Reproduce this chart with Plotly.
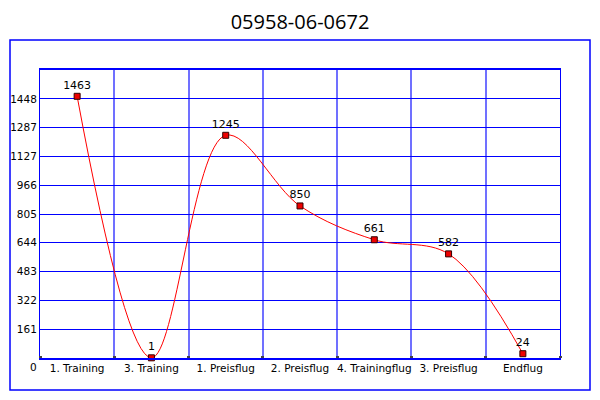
import plotly.graph_objects as go

title = "05958-06-0672"
categories = ["1. Training", "3. Training", "1. Preisflug", "2. Preisflug",
              "4. Trainingflug", "3. Preisflug", "Endflug"]
values = [1463, 1, 1245, 850, 661, 582, 24]
y_ticks = [161, 322, 483, 644, 805, 966, 1127, 1287, 1448]
y_max = 1610

x_pos = [i + 0.5 for i in range(len(categories))]

FONT = "DejaVu Sans"
OFF = 8  # page body offset compensation

fig = go.Figure()
fig.add_trace(go.Scatter(
    x=x_pos, y=values,
    mode="lines+markers+text",
    text=[str(v) for v in values],
    textposition="top center",
    textfont=dict(family=FONT, size=11, color="black"),
    line=dict(color="#ff0000", width=1, shape="spline", smoothing=1.0),
    marker=dict(symbol="square", size=6, color="#ee0000",
                line=dict(color="#330000", width=1)),
    cliponaxis=False,
    showlegend=False,
))

fig.update_layout(
    width=600, height=400,
    margin=dict(l=40 - OFF, r=40 + OFF, t=70 - OFF, b=42 + OFF),
    paper_bgcolor="white", plot_bgcolor="white",
    title=dict(text=title, x=(300 - OFF) / 600, xanchor="center",
               y=1 - (22 - OFF) / 400, yanchor="middle",
               yref="container", font=dict(family="Open Sans", size=20, color="black")),
    font=dict(family=FONT, size=10, color="black"),
)

fig.update_xaxes(
    range=[0, len(categories)], automargin=False,
    tickvals=x_pos, ticktext=categories,
    showgrid=False, zeroline=False,
    ticks="", tickfont=dict(family=FONT, size=10.5, color="black"),
    showline=True, linecolor="#0000ff", linewidth=1.5, mirror=True,
    minor=dict(tick0=0, dtick=1, showgrid=True, gridcolor="#7070ff",
               gridwidth=2, ticks="inside", ticklen=2, tickwidth=3, tickcolor="#444444"),
)
fig.update_yaxes(
    range=[0, y_max], automargin=False,
    tickvals=y_ticks, ticktext=[str(v) for v in y_ticks],
    showgrid=True, gridcolor="#0000ff", gridwidth=1.3,
    zeroline=False, ticks="",
    tickfont=dict(family=FONT, size=10.5, color="black"),
    showline=True, linecolor="#0000ff", linewidth=1, mirror=True,
)

# "0" label at the axis corner
fig.add_annotation(text="0", xref="paper", yref="paper",
                   x=(33 - 40) / 520, y=(358 - 367) / 288,
                   xanchor="center", yanchor="middle", showarrow=False,
                   font=dict(family=FONT, size=10.5, color="black"))

# outer frame
fig.add_shape(type="rect", xref="paper", yref="paper",
              x0=(10 - 40) / 520, x1=(590 - 40) / 520,
              y0=(358 - 390) / 288, y1=(358 - 40) / 288,
              line=dict(color="#0000ff", width=1.5), layer="below")

fig.write_html("out.html")
